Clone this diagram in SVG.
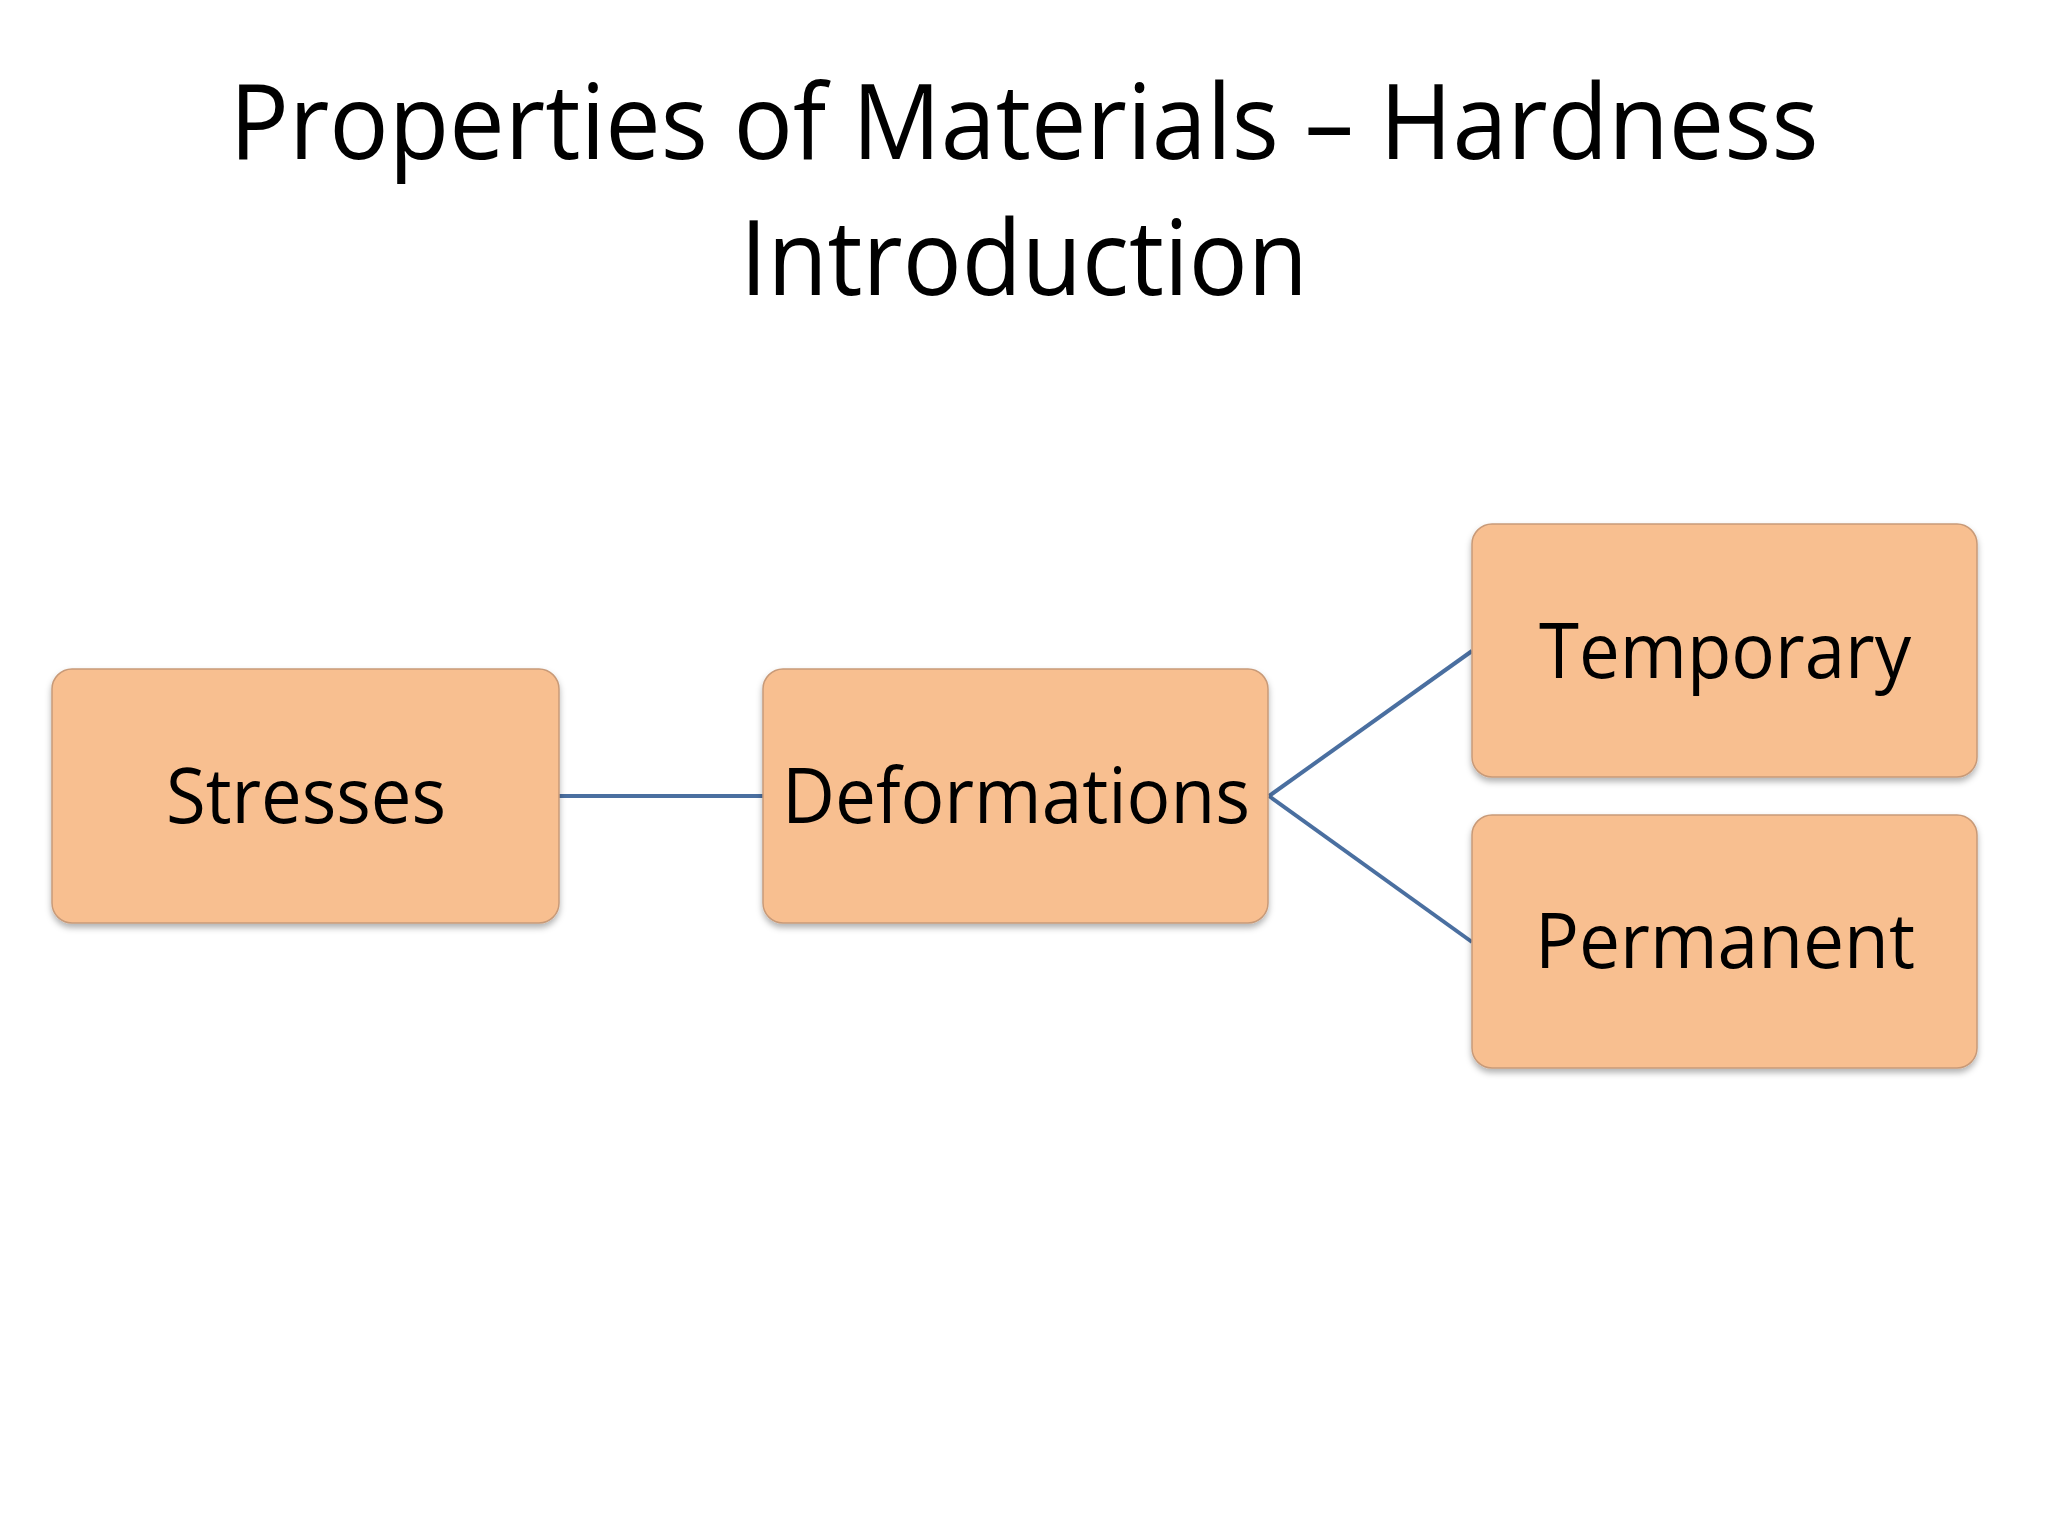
<svg xmlns="http://www.w3.org/2000/svg" width="2048" height="1536" viewBox="0 0 2048 1536">
<defs>
<filter id="sh" x="-10%" y="-10%" width="120%" height="130%"><feDropShadow dx="0" dy="4" stdDeviation="3" flood-color="#000" flood-opacity="0.3"/></filter>
</defs>
<style>
.box{fill:#f8bf90;stroke:#c89a78;stroke-width:1.5;filter:url(#sh)}
.t{font-family:"Open Sans","Liberation Sans",sans-serif;fill:#000;text-anchor:middle}
.n{font-size:76px}
.c{stroke:#4a6fa0;stroke-width:4;fill:none}
</style>
<rect width="2048" height="1536" fill="#fff"/>
<text class="t" x="1024" y="159" font-size="104" textLength="1589" lengthAdjust="spacingAndGlyphs">Properties of Materials – Hardness</text>
<text class="t" x="1024" y="295" font-size="104" textLength="568" lengthAdjust="spacingAndGlyphs">Introduction</text>
<g id="connectors">
<line class="c" x1="559" y1="796" x2="763" y2="796"/>
<line class="c" x1="1269" y1="796" x2="1472" y2="651"/>
<line class="c" x1="1269" y1="796" x2="1472" y2="942"/>
</g>
<g id="stresses"><rect class="box" x="52" y="669" width="507" height="254" rx="20"/><text class="t n" x="306" y="823" textLength="280" lengthAdjust="spacingAndGlyphs">Stresses</text></g>
<g id="deformations"><rect class="box" x="763" y="669" width="505" height="254" rx="20"/><text class="t n" x="1016" y="823" textLength="468" lengthAdjust="spacingAndGlyphs">Deformations</text></g>
<g id="temporary"><rect class="box" x="1472" y="524" width="505" height="253" rx="20"/><text class="t n" x="1725" y="678" textLength="372" lengthAdjust="spacingAndGlyphs">Temporary</text></g>
<g id="permanent"><rect class="box" x="1472" y="815" width="505" height="253" rx="20"/><text class="t n" x="1725" y="968" textLength="380" lengthAdjust="spacingAndGlyphs">Permanent</text></g>
</svg>
